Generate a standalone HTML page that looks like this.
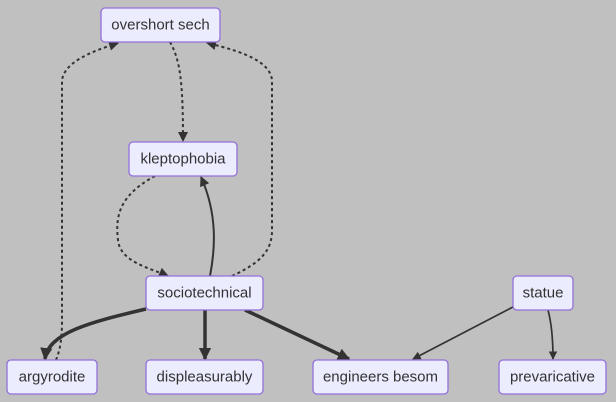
<!DOCTYPE html>
<html><head><meta charset="utf-8"><style>
html,body{margin:0;padding:0;background:#c0c0c0;}
svg{display:block}
.n rect{fill:#ececff;stroke:#9370db;stroke-width:1.3}
.n text{font-family:"Liberation Sans",sans-serif;font-size:15px;fill:#333;text-anchor:middle;dominant-baseline:central}
.e{fill:none;stroke:#333}
</style></head><body>
<svg width="616" height="402" viewBox="0 0 616 402">
<defs>
<marker id="a" viewBox="0 0 10 10" refX="9" refY="5" markerWidth="5" markerHeight="5" orient="auto"><path d="M0,0L10,5L0,10z" fill="#333"/></marker>
<marker id="b" viewBox="0 0 10 10" refX="9" refY="5" markerWidth="3.5" markerHeight="3.5" orient="auto"><path d="M0,0L10,5L0,10z" fill="#333"/></marker>
</defs>
<g>
<path class="e" stroke-width="2" stroke-dasharray="3,3" marker-end="url(#a)" d="M170,42 C180,60 183,80 183,141"/>
<path class="e" stroke-width="2" stroke-dasharray="3,3" marker-end="url(#a)" d="M155,176 C120,195 115,215 118,240 C120,262 150,268 168,276"/>
<path class="e" stroke-width="2" marker-end="url(#a)" d="M210,276 C215,250 218,215 201,177"/>
<path class="e" stroke-width="2" stroke-dasharray="3,3" marker-end="url(#a)" d="M56,360 C60,350 62,340 62,320 L62,80 C65,62 90,52 118,43"/>
<path class="e" stroke-width="2" stroke-dasharray="3,3" marker-end="url(#a)" d="M232,276 C262,262 272,250 272,230 L272,80 C270,62 245,52 207,43"/>
<path class="e" stroke-width="3.5" marker-end="url(#b)" d="M146,309 C90,322 48,333 45,359"/>
<path class="e" stroke-width="3.5" marker-end="url(#b)" d="M205,310 L205,359"/>
<path class="e" stroke-width="3.5" marker-end="url(#b)" d="M245,310 L349,359"/>
<path class="e" stroke-width="1.7" marker-end="url(#a)" d="M513,307 L413,359"/>
<path class="e" stroke-width="1.7" marker-end="url(#a)" d="M548,310 C552,325 553,340 553,359"/>
</g>
<g class="n"><rect x="101" y="8" width="119" height="34" rx="4"/><text x="160.5" y="25">overshort sech</text></g>
<g class="n"><rect x="129" y="142" width="108" height="34" rx="4"/><text x="183" y="159">kleptophobia</text></g>
<g class="n"><rect x="146" y="276" width="117" height="34" rx="4"/><text x="204.5" y="293">sociotechnical</text></g>
<g class="n"><rect x="513" y="276" width="60" height="34" rx="4"/><text x="543" y="293">statue</text></g>
<g class="n"><rect x="7" y="360" width="90" height="34" rx="4"/><text x="52" y="377">argyrodite</text></g>
<g class="n"><rect x="146" y="360" width="117" height="34" rx="4"/><text x="204.5" y="377">displeasurably</text></g>
<g class="n"><rect x="313" y="360" width="135" height="34" rx="4"/><text x="380.5" y="377">engineers besom</text></g>
<g class="n"><rect x="499" y="360" width="107" height="34" rx="4"/><text x="552.5" y="377">prevaricative</text></g>
</svg>
</body></html>
